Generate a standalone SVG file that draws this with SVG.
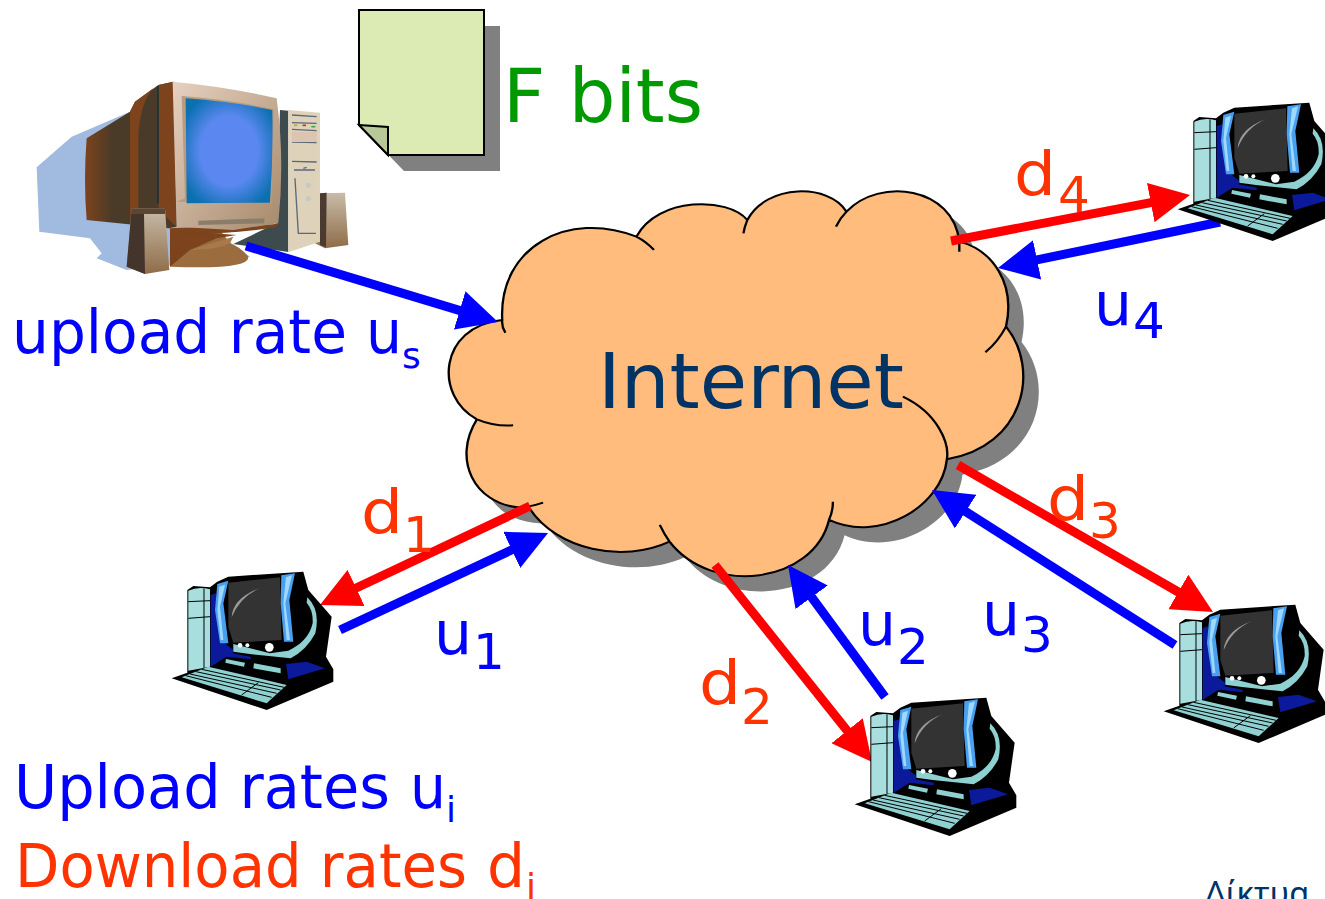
<svg xmlns="http://www.w3.org/2000/svg" xmlns:xlink="http://www.w3.org/1999/xlink" width="1325" height="899" viewBox="0 0 1325 899">
<style>
.t{font-family:"DejaVu Sans","Liberation Sans",sans-serif}
.b{fill:#0000ff}.r{fill:#ff3300}
.m{font-size:60px}.s{font-size:50px}.x{font-size:36px}
.cl{fill:none;stroke:#000;stroke-width:6}
.cf{fill:#ffbc7d}
.blue{stroke:#0000ff;stroke-width:9;fill:none;marker-end:url(#ab)}
.red{stroke:#ff0000;stroke-width:9;fill:none;marker-end:url(#ar)}
.k{stroke:#000;stroke-width:3;fill:none}
</style>
<defs>
<marker id="ab" markerUnits="userSpaceOnUse" markerWidth="40" markerHeight="40" refX="4" refY="20" orient="auto"><path d="M0 0L40 20L0 40Z" fill="#0000ff"/></marker>
<marker id="ar" markerUnits="userSpaceOnUse" markerWidth="40" markerHeight="40" refX="4" refY="20" orient="auto"><path d="M0 0L40 20L0 40Z" fill="#ff0000"/></marker>
<radialGradient id="scr" cx=".5" cy=".5" r=".6"><stop offset=".55" stop-color="#5a88f0"/><stop offset="1" stop-color="#0a70b0"/></radialGradient>
<linearGradient id="bk" x1="0" x2="1"><stop offset="0" stop-color="#7d431c"/><stop offset=".3" stop-color="#4a3a28"/><stop offset="1" stop-color="#4a3a28"/></linearGradient>
<linearGradient id="fr" x1="0" x2="1" y1="0" y2="1"><stop offset="0" stop-color="#e6d0c0"/><stop offset="1" stop-color="#a68a6c"/></linearGradient>
<linearGradient id="sp" x1="0" x2="0" y1="0" y2="1"><stop offset="0" stop-color="#c8bcaa"/><stop offset="1" stop-color="#8f6c48"/></linearGradient>
<path id="co" d="M160 420C150 200 330 90 505 170C560 50 740 50 790 120C840 10 1000 10 1045 95C1130 -10 1320 20 1335 185C1420 210 1480 310 1455 440C1545 570 1500 800 1303 838C1290 980 1130 1090 1000 1020C960 1210 700 1250 590 1085C470 1150 300 1110 230 985L200 982C90 970 30 840 95 718C-15 650 -5 440 160 420Z"/>
<g id="pc">
<path d="M35 355L82 338L82 90L100 78L150 82L172 65L205 50L430 35L445 90L515 170L498 290L520 328L520 365L320 450Z" fill="#000"/>
<path d="M85 92Q115 78 150 88L150 320L85 332Z" fill="#a8dede"/>
<path d="M85 125L150 122M85 175L150 170M132 85L132 325" class="k"/>
<path d="M152 105L168 100L195 250L220 270L218 280L272 290L272 298L200 290L152 320Z" fill="#0a1a9a"/>
<path d="M385 358L495 325L440 305L378 312Z" fill="#0a1a9a"/>
<path d="M205 68L360 52L365 240L220 248L205 200Z" fill="#333"/>
<path d="M215 172Q218 115 300 84Q240 110 215 172Z" fill="#999"/>
<path d="M172 72L205 62L190 130L205 250L180 250L165 150Z" fill="#4aa0f0"/>
<path d="M178 80L195 74L180 140L190 240L182 240L172 150Z" fill="#9fd8ff"/>
<path d="M364 46L405 40L388 120L400 245L372 245L362 130Z" fill="#4aa0f0"/>
<path d="M378 52L396 46L376 130L390 240L380 240L370 130Z" fill="#9fd8ff"/>
<path d="M442 112Q482 150 466 220Q440 270 392 295L270 282L220 275L220 252L330 280L385 272Q445 245 458 190Q460 150 440 128Z" fill="#8fd0d0"/>
<circle cx="240" cy="256" r="7" fill="#fff"/><circle cx="262" cy="256" r="6" fill="#fff"/><circle cx="328" cy="262" r="13" fill="#fff"/>
<path d="M198 297L255 308L252 320L196 308ZM282 310L362 325L362 340L280 325Z" fill="#8fd0d0"/>
<path d="M65 352L145 320L380 375L320 430Z" fill="#8fd0d0"/>
<path d="M90 342L350 400M108 335L362 390M125 328L372 382M245 405L295 368M77 347L335 412" class="k"/>
</g>
</defs>
<rect width="1325" height="899" fill="#fff"/>

<g id="server" transform="translate(20 70) scale(.3333)">
<path d="M330 125L155 200L50 292L58 485L210 505L245 550L230 565L320 600L690 560L640 525L400 300Z" fill="#a0bae0"/>
<path d="M450 590Q690 600 685 560Q660 530 630 520L600 480L450 480Z" fill="#9a6c3e"/>
<path d="M450 590L510 540L590 505L650 495L450 480Z" fill="#7d431c"/>
<path d="M510 540L640 500L630 520Q590 540 510 540Z" fill="#a87a48"/>
<path d="M780 120L805 122L805 546L640 522L770 460Z" fill="#3d4a4e"/>
<path d="M805 120L900 128L900 515L805 547Z" fill="#ded2ba"/>
<path d="M816 135L890 140M816 158L890 160M816 178L890 182M816 216L890 218M816 274L890 276M822 300L885 300M825 325L835 490L888 490M850 295L860 292" stroke="#5a6a78" stroke-width="4" fill="none"/>
<rect x="816" y="186" width="74" height="30" fill="#dcc4b0"/>
<circle cx="865" cy="346" r="8" fill="#c8c8c8"/><circle cx="865" cy="386" r="8" fill="#c8c8c8"/>
<path d="M822 166h10" stroke="#d0a020" stroke-width="5"/><path d="M848 166h10" stroke="#c03030" stroke-width="5"/><path d="M874 170h12" stroke="#30b040" stroke-width="5"/>
<path d="M900 370L975 368L985 525L915 535L885 520L900 515Z" fill="url(#sp)"/>
<path d="M900 370L920 368L918 532L900 525Z" fill="#4a3a30"/>
<path d="M200 205L330 125L345 95L415 45L460 35L470 470L445 475L200 450Q190 330 200 205Z" fill="url(#bk)"/>
<path d="M330 125L345 95L400 55Q360 100 355 200L355 450L330 440Z" fill="#7d431c"/>
<path d="M416 45L460 35L470 470L416 420Z" fill="#7d431c"/>
<path d="M414 48V400" stroke="#103040" stroke-width="4"/>
<path d="M448 475L775 462L770 470Q640 495 455 490Z" fill="#7d431c"/>
<path d="M458 35Q620 50 770 85Q795 270 775 460L640 480L470 470Z" fill="url(#fr)"/>
<path d="M485 78Q640 90 762 118L755 400L470 395L495 385Z" fill="#b89c80"/>
<path d="M497 85Q640 95 757 120Q760 260 750 398L500 400Z" fill="url(#scr)"/>
<path d="M535 452L733 445V460L535 465Z" fill="#8a7d6a"/>
<path d="M335 415L435 415L448 600L375 612L320 590Z" fill="url(#sp)"/>
<path d="M335 415L372 432L375 612L320 590Z" fill="#43352c"/>
<path d="M335 415H435V432H335Z" fill="#5a4632"/>
</g>

<g id="file">
<path d="M375 26H500V171H404L375 141Z" fill="#808080"/>
<path d="M359 10H484V155H388L359 125Z" fill="#dcebb4" stroke="#000" stroke-width="2"/>
<path d="M359 125L388 127V155Z" fill="#b8c898" stroke="#000" stroke-width="2"/>
<text class="t" x="503" y="122" font-size="75" fill="#009900" textLength="200" lengthAdjust="spacingAndGlyphs">F bits</text>
</g>

<g id="cloud">
<g transform="translate(440 180) scale(.389 .3333)">
<use href="#co" xlink:href="#co" fill="#808080" transform="translate(40 46)"/>
<use href="#co" xlink:href="#co" class="cf"/>
<path class="cl" d="M168 458Q158 440 160 420C150 200 330 90 505 170Q530 185 550 210M505 170C560 50 740 50 790 120M780 160Q783 140 790 120C840 10 1000 10 1045 95M1018 140Q1028 115 1045 95C1130 -10 1320 20 1335 185V215M1335 185C1420 210 1480 310 1455 440Q1435 485 1402 517M1455 440C1545 570 1500 800 1303 838M1190 650C1280 700 1310 790 1303 838C1290 980 1130 1090 1000 1020M1010 965Q1010 995 1000 1020C960 1210 700 1250 590 1085Q575 1060 565 1035M590 1085C470 1150 300 1110 230 985M265 968Q230 982 200 982C90 970 30 840 95 718Q140 740 188 736M95 718C-15 650 -5 440 160 420"/>
</g>
<text class="t" x="598" y="408" font-size="76" fill="#003366" textLength="306" lengthAdjust="spacingAndGlyphs">Internet</text>
</g>

<g id="connectors">
<path class="blue" d="M246 246L463.500 311.600"/>
<path class="red" d="M951 241L1154.700 201.800"/>
<path class="blue" d="M1220 222L1033.200 260.700"/>
<path class="red" d="M958 465L1181.800 594"/>
<path class="blue" d="M1175 645L962.300 509.400"/>
<path class="red" d="M715 565L849.600 733.800"/>
<path class="blue" d="M885 697L809.300 594"/>
<path class="red" d="M530 506L352.500 589.700"/>
<path class="blue" d="M340 630L515.400 548.200"/>
</g>

<g id="peer1"><use xlink:href="#pc" href="#pc" transform="translate(160 560) scale(.3333)"/></g>
<g id="peer2"><use xlink:href="#pc" href="#pc" transform="translate(843 686) scale(.3333)"/></g>
<g id="peer3"><use xlink:href="#pc" href="#pc" transform="translate(1152 593) scale(.3333)"/></g>
<g id="peer4"><use xlink:href="#pc" href="#pc" transform="translate(1166 91) scale(.3333)"/></g>

<g id="labels">
<text class="t b m" x="12" y="353" textLength="335" lengthAdjust="spacingAndGlyphs">upload rate</text>
<text class="t b m" x="366" y="353" textLength="36" lengthAdjust="spacingAndGlyphs">u</text><text class="t b x" x="402" y="368">s</text>
<text class="t b m" x="14" y="808" textLength="376" lengthAdjust="spacingAndGlyphs">Upload rates</text>
<text class="t b m" x="410" y="808" textLength="36" lengthAdjust="spacingAndGlyphs">u</text><text class="t b x" x="446" y="822">i</text>
<text class="t r m" x="15" y="887" textLength="452" lengthAdjust="spacingAndGlyphs">Download rates</text>
<text class="t r m" x="487" y="887">d</text><text class="t r x" x="526" y="899">i</text>
<text class="t r m" x="1014" y="195" textLength="42" lengthAdjust="spacingAndGlyphs">d</text><text class="t r s" x="1058" y="212">4</text>
<text class="t b m" x="1094" y="325">u</text><text class="t b s" x="1133" y="338">4</text>
<text class="t r m" x="1047" y="520" textLength="42" lengthAdjust="spacingAndGlyphs">d</text><text class="t r s" x="1089" y="538">3</text>
<text class="t b m" x="982" y="635">u</text><text class="t b s" x="1021" y="652">3</text>
<text class="t b m" x="858" y="645">u</text><text class="t b s" x="897" y="664">2</text>
<text class="t r m" x="699" y="704" textLength="42" lengthAdjust="spacingAndGlyphs">d</text><text class="t r s" x="741" y="724">2</text>
<text class="t r m" x="361" y="533" textLength="42" lengthAdjust="spacingAndGlyphs">d</text><text class="t r s" x="403" y="552">1</text>
<text class="t b m" x="434" y="654">u</text><text class="t b s" x="473" y="669">1</text>
<text x="1205" y="905" font-family="'Noto Sans','Open Sans',sans-serif" font-size="32.500" fill="#003366">Δίκτυα</text>
</g>
</svg>
